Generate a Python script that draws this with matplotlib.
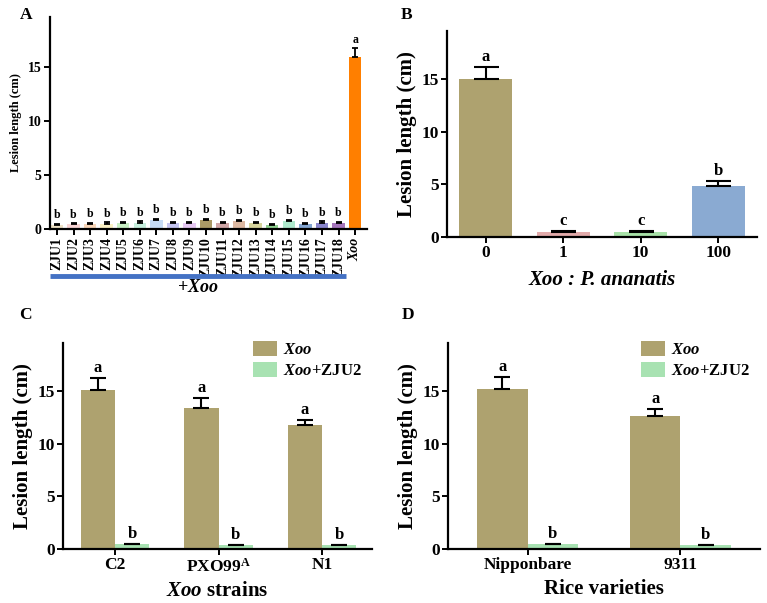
import matplotlib
matplotlib.use("Agg")
import matplotlib.pyplot as plt
import matplotlib.transforms as mtransforms

plt.rcParams['font.family'] = ['Liberation Serif', 'DejaVu Serif']
plt.rcParams['font.weight'] = 'bold'
plt.rcParams['mathtext.fontset'] = 'custom'
plt.rcParams['mathtext.rm'] = 'Liberation Serif:bold'
plt.rcParams['mathtext.it'] = 'Liberation Serif:italic:bold'
plt.rcParams['mathtext.bf'] = 'Liberation Serif:bold'

# ---------------- data ----------------
# Panel A
a_labels = ['ZJU1', 'ZJU2', 'ZJU3', 'ZJU4', 'ZJU5', 'ZJU6', 'ZJU7', 'ZJU8', 'ZJU9',
            'ZJU10', 'ZJU11', 'ZJU12', 'ZJU13', 'ZJU14', 'ZJU15', 'ZJU16', 'ZJU17',
            'ZJU18', 'Xoo']
a_values = [0.40, 0.45, 0.50, 0.50, 0.60, 0.60, 0.80, 0.60, 0.60,
            0.80, 0.60, 0.75, 0.60, 0.35, 0.70, 0.45, 0.60, 0.55, 15.9]
a_err = [0.10, 0.08, 0.10, 0.12, 0.08, 0.10, 0.12, 0.08, 0.08,
         0.12, 0.08, 0.12, 0.08, 0.10, 0.12, 0.10, 0.10, 0.08, 0.80]
a_letters = ['b'] * 18 + ['a']
a_colors = ['#efe2c6', '#f8d4d4', '#f9d6b8', '#fbf1c4', '#c8efc4', '#c6eedc', '#c6dcf6',
            '#c4c4f0', '#e6c8f2', '#aa9a66', '#cfa6a6', '#dcb8a2', '#d6d49c', '#90d090',
            '#aee8cc', '#84a6d2', '#8a86cc', '#a676bc', '#ff7f00']

# Panel B
b_labels = ['0', '1', '10', '100']
b_values = [15.0, 0.45, 0.45, 4.85]
b_err = [1.2, 0.10, 0.12, 0.45]
b_letters = ['a', 'c', 'c', 'b']
b_colors = ['#aea26f', '#e2aaaa', '#a8e2a8', '#8aaad2']

# Panel C
c_labels = ['C2', r'PXO99$^{\mathrm{A}}$', 'N1']
c_xoo = [15.1, 13.45, 11.8]
c_xoo_err = [1.2, 0.9, 0.5]
c_zju = [0.45, 0.35, 0.35]
c_zju_err = [0.07, 0.06, 0.06]

# Panel D
d_labels = ['Nipponbare', '9311']
d_xoo = [15.2, 12.7]
d_xoo_err = [1.15, 0.65]
d_zju = [0.45, 0.35]
d_zju_err = [0.07, 0.06]

series_names = [r'$\mathit{Xoo}$', r'$\mathit{Xoo}$+ZJU2']
olive = '#aea26f'
green = '#a8e2b2'

W, H = 767, 603
fig = plt.figure(figsize=(W / 100, H / 100), dpi=100)


def px_axes(left, top, right, bottom):
    return fig.add_axes([left / W, 1 - bottom / H, (right - left) / W, (bottom - top) / H])


def style(ax, fs):
    for s in ['top', 'right']:
        ax.spines[s].set_visible(False)
    for s in ['left', 'bottom']:
        ax.spines[s].set_linewidth(1.6)
    ax.tick_params(width=1.4, length=4, labelsize=fs, direction='out', pad=2)
    ax.set_ylim(0, 19.6)
    ax.set_yticks([0, 5, 10, 15])
    for lab in ax.get_yticklabels():
        lab.set_fontweight('bold')


def one_sided(err):
    return [[0] * len(err), err]


# ---------------- Panel A ----------------
axA = px_axes(50, 17, 367, 229)
style(axA, 10)
xa = list(range(len(a_labels)))
axA.bar(xa, a_values, width=0.75, color=a_colors, zorder=2)
axA.errorbar(xa, a_values, yerr=one_sided(a_err), fmt='none', ecolor='black',
             elinewidth=1.3, capsize=2.2, capthick=1.3, zorder=3)
for x, v, e, l in zip(xa, a_values, a_err, a_letters):
    axA.text(x, v + e + 0.25, l, ha='center', va='bottom', fontsize=8.5, fontweight='bold')
axA.set_xlim(-0.42, 18.72)
axA.set_xticks(xa)
axA.set_xticklabels(a_labels, rotation=90, fontsize=10, fontweight='bold')
axA.get_xticklabels()[-1].set_fontstyle('italic')
axA.set_ylabel('Lesion length (cm)', fontsize=9, fontweight='bold', labelpad=4)
trA = mtransforms.blended_transform_factory(axA.transData, axA.transAxes)
axA.plot([-0.42, 17.47], [-0.222, -0.222], transform=trA, color='#4472c4', lw=3.5,
         clip_on=False, solid_capstyle='butt')
axA.text(8.5, -0.275, r'+$\mathit{Xoo}$', transform=trA, ha='center', va='center',
         fontsize=13, fontweight='bold')
fig.text(26 / W, 1 - 15 / H, 'A', fontsize=12.5, fontweight='bold', ha='center', va='center')

# ---------------- Panel B ----------------
axB = px_axes(447, 31, 757, 237)
style(axB, 12.5)
xb = list(range(len(b_labels)))
axB.bar(xb, b_values, width=0.69, color=b_colors, zorder=2)
axB.errorbar(xb, b_values, yerr=one_sided(b_err), fmt='none', ecolor='black',
             elinewidth=1.5, capsize=9, capthick=1.5, zorder=3)
for x, v, e, l in zip(xb, b_values, b_err, b_letters):
    axB.text(x, v + e + 0.2, l, ha='center', va='bottom', fontsize=12, fontweight='bold')
axB.set_xlim(-0.5, 3.5)
axB.set_xticks(xb)
axB.set_xticklabels(b_labels, fontsize=12.5, fontweight='bold')
axB.set_ylabel('Lesion length (cm)', fontsize=15, fontweight='bold', labelpad=3)
axB.set_xlabel('Xoo : P. ananatis', fontsize=15, fontweight='bold', fontstyle='italic',
               labelpad=6)
fig.text(407 / W, 1 - 15 / H, 'B', fontsize=12.5, fontweight='bold', ha='center', va='center')


# ---------------- Panels C & D ----------------
def grouped(ax, labels, xoo, xoo_err, zju, zju_err, xlabel, xlim):
    style(ax, 12.5)
    xs = list(range(len(labels)))
    w = 0.33
    x1 = [x - w / 2 for x in xs]
    x2 = [x + w / 2 for x in xs]
    ax.bar(x1, xoo, width=w, color=olive, zorder=2, label=series_names[0])
    ax.bar(x2, zju, width=w, color=green, zorder=2, label=series_names[1])
    ax.errorbar(x1, xoo, yerr=one_sided(xoo_err), fmt='none', ecolor='black',
                elinewidth=1.5, capsize=6, capthick=1.5, zorder=3)
    ax.errorbar(x2, zju, yerr=one_sided(zju_err), fmt='none', ecolor='black',
                elinewidth=1.5, capsize=6, capthick=1.5, zorder=3)
    for x, v, e in zip(x1, xoo, xoo_err):
        ax.text(x, v + e + 0.2, 'a', ha='center', va='bottom', fontsize=12, fontweight='bold')
    for x, v, e in zip(x2, zju, zju_err):
        ax.text(x, v + e + 0.15, 'b', ha='center', va='bottom', fontsize=12, fontweight='bold')
    ax.set_xlim(*xlim)
    ax.set_xticks(xs)
    ax.set_xticklabels(labels, fontsize=12.5, fontweight='bold')
    ax.set_ylabel('Lesion length (cm)', fontsize=15, fontweight='bold', labelpad=3)
    ax.set_xlabel(xlabel, fontsize=15, fontweight='bold', labelpad=4)
    leg = ax.legend(loc='upper right', bbox_to_anchor=(1.0, 1.06), frameon=False,
                    fontsize=12, handlelength=1.4, handleheight=1.0,
                    handletextpad=0.4, labelspacing=0.25, borderaxespad=0.2)
    return leg


axC = px_axes(63, 343, 372, 549)
grouped(axC, c_labels, c_xoo, c_xoo_err, c_zju, c_zju_err,
        r'$\mathit{Xoo}$ strains', (-0.5, 2.48))
fig.text(25 / W, 1 - 315 / H, 'C', fontsize=12.5, fontweight='bold', ha='center', va='center')

axD = px_axes(448, 343, 760, 549)
grouped(axD, d_labels, d_xoo, d_xoo_err, d_zju, d_zju_err,
        'Rice varieties', (-0.52, 1.52))
fig.text(408 / W, 1 - 315 / H, 'D', fontsize=12.5, fontweight='bold', ha='center', va='center')

fig.savefig('out.png', dpi=100)
